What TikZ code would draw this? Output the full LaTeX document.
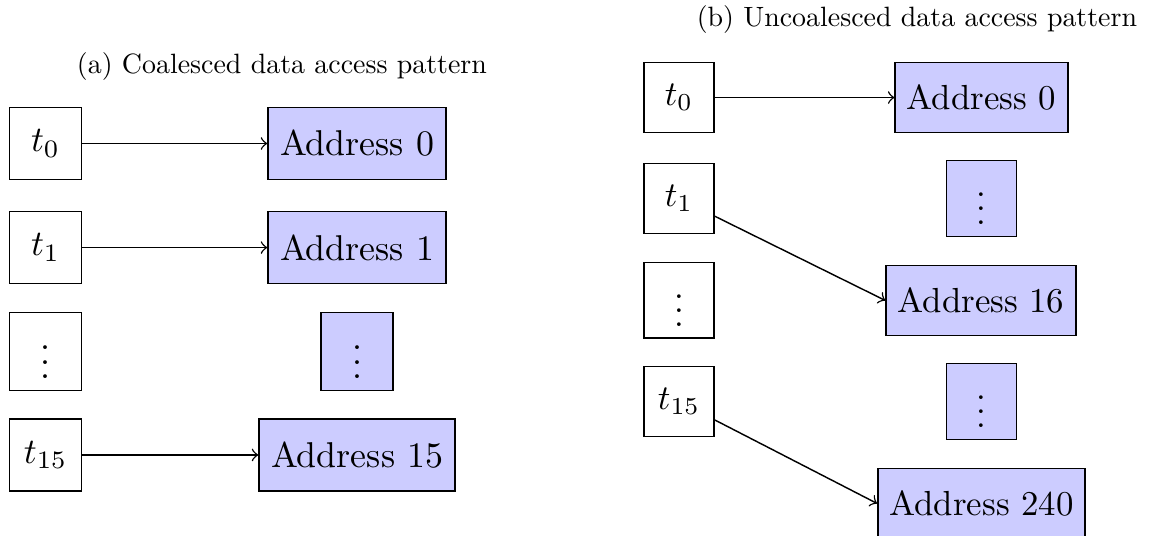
\documentclass[tikz,border=0pt]{standalone}
\usepackage{amssymb, amsmath}
\usepackage{tikz}

\begin{document}
\begin{tikzpicture}[
    thr/.style={draw, minimum width=2em, minimum height=2em},
    addr/.style={draw, fill=blue!20, minimum width=2em, minimum height=2em}]
      \useasboundingbox (0,0) rectangle (11.32,-5.239);
      % (a) coalesced:
      \node[anchor=base, scale=0.778] (capa) at (2.761,-0.718) {(a) Coalesced data access pattern};
      \node[thr] (ta0) at (0.446,-1.405) {$t_0$};
      \node[thr] (ta1) at (0.446,-2.424) {$t_1$};
      \node[thr] (tadots) at (0.446,-3.442) {$\vdots$};
      \node[thr] (ta15) at (0.446,-4.455) {$t_{15}$};
      \node[addr] (aa0) at (3.496,-1.405) {Address 0};
      \node[addr] (aa1) at (3.496,-2.424) {Address 1};
      \node[addr] (aadots) at (3.496,-3.442) {$\vdots$};
      \node[addr] (aa15) at (3.496,-4.455) {Address 15};
      \foreach \t/\a in {ta0/aa0, ta1/aa1, ta15/aa15} \draw[->] (\t) -- (\a);
      % (b) uncoalesced:
      \node[anchor=base, scale=0.778] (capb) at (8.979,-0.261) {(b) Uncoalesced data access pattern};
      \begin{scope}[every node/.append style={scale=0.97}]
      \node[thr] (tb0) at (6.649,-0.955) {$t_0$};
      \node[thr] (tb1) at (6.649,-1.944) {$t_1$};
      \node[thr] (tbdots) at (6.649,-2.938) {$\vdots$};
      \node[thr] (tb15) at (6.649,-3.932) {$t_{15}$};
      \node[addr] (ab0) at (9.611,-0.955) {Address 0};
      \node[addr] (abdots1) at (9.611,-1.944) {$\vdots$};
      \node[addr] (ab16) at (9.606,-2.942) {Address 16};
      \node[addr] (abdots2) at (9.611,-3.932) {$\vdots$};
      \node[addr] (ab240) at (9.611,-4.930) {Address 240};
      \end{scope}
      \draw[->] (tb0) -- (ab0);
      \draw[->] (tb1) -- (ab16.west);
      \draw[->] (tb15) -- (ab240.west);
    \end{tikzpicture}
\end{document}
